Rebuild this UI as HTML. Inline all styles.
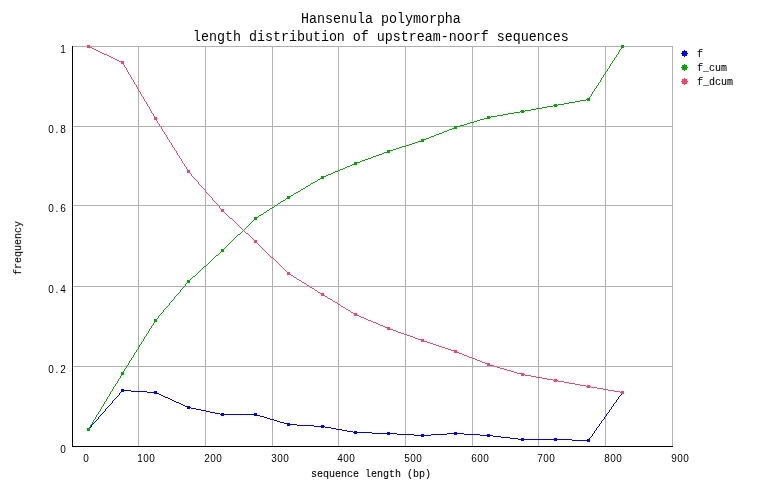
<!DOCTYPE html>
<html><head><meta charset="utf-8"><title>Hansenula polymorpha</title>
<style>
html,body{margin:0;padding:0;background:#fff;}
body{width:762px;height:498px;overflow:hidden;font-family:"Liberation Mono",monospace;}
svg{display:block;}
text{font-family:"Liberation Mono",monospace;fill:#000;stroke:#000;stroke-width:0.1px;}
.s{font-size:10px;}
.d{font-family:"Liberation Sans",sans-serif;font-size:10px;stroke:none;}
.t{font-size:13.333px;stroke:none;}
</style></head><body>
<svg width="762" height="498" viewBox="0 0 762 498">
<rect x="0" y="0" width="762" height="498" fill="#ffffff"/>

<g shape-rendering="crispEdges" fill="#b0b0b0">
<rect x="138" y="46" width="1" height="401"/>
<rect x="205" y="46" width="1" height="401"/>
<rect x="272" y="46" width="1" height="401"/>
<rect x="338" y="46" width="1" height="401"/>
<rect x="405" y="46" width="1" height="401"/>
<rect x="472" y="46" width="1" height="401"/>
<rect x="538" y="46" width="1" height="401"/>
<rect x="605" y="46" width="1" height="401"/>
<rect x="672" y="46" width="1" height="401"/>
<rect x="72" y="46" width="601" height="1"/>
<rect x="72" y="126" width="601" height="1"/>
<rect x="72" y="205" width="601" height="1"/>
<rect x="72" y="286" width="601" height="1"/>
<rect x="72" y="366" width="601" height="1"/>
</g>
<g shape-rendering="crispEdges" fill="#000"><rect x="72" y="46" width="1" height="401"/><rect x="72" y="446" width="601" height="1"/></g>
<path fill="#0000ff" shape-rendering="crispEdges" d="M87 428h3v1h-3zM87 429h3v1h-3zM87 430h3v1h-3zM90 427h1v1h-1zM91 425h1v2h-1zM92 424h1v1h-1zM93 423h1v1h-1zM94 422h1v1h-1zM95 421h1v1h-1zM96 420h1v1h-1zM97 419h1v1h-1zM98 417h1v2h-1zM99 416h1v1h-1zM100 415h1v1h-1zM101 414h1v1h-1zM102 413h1v1h-1zM103 412h1v1h-1zM104 411h1v1h-1zM105 409h1v2h-1zM106 408h1v1h-1zM107 407h1v1h-1zM108 406h1v1h-1zM109 405h1v1h-1zM110 404h1v1h-1zM111 403h1v1h-1zM112 401h1v2h-1zM113 400h1v1h-1zM114 399h1v1h-1zM115 398h1v1h-1zM116 397h1v1h-1zM117 396h1v1h-1zM118 395h1v1h-1zM119 393h1v2h-1zM120 392h1v1h-1zM121 389h3v1h-3zM121 390h10v1h-10zM121 391h3v1h-3zM131 391h16v1h-16zM147 392h10v1h-10zM154 391h3v1h-3zM154 393h5v1h-5zM159 394h2v1h-2zM161 395h2v1h-2zM163 396h2v1h-2zM165 397h3v1h-3zM168 398h2v1h-2zM170 399h2v1h-2zM172 400h2v1h-2zM174 401h2v1h-2zM176 402h3v1h-3zM179 403h2v1h-2zM181 404h2v1h-2zM183 405h2v1h-2zM185 406h5v1h-5zM187 407h4v1h-4zM187 408h3v1h-3zM191 408h5v1h-5zM196 409h5v1h-5zM201 410h5v1h-5zM206 411h4v1h-4zM210 412h5v1h-5zM215 413h5v1h-5zM220 414h37v1h-37zM221 413h3v1h-3zM221 415h3v1h-3zM254 413h3v1h-3zM254 415h6v1h-6zM260 416h4v1h-4zM264 417h3v1h-3zM267 418h3v1h-3zM270 419h4v1h-4zM274 420h3v1h-3zM277 421h3v1h-3zM280 422h4v1h-4zM284 423h6v1h-6zM287 424h10v1h-10zM287 425h3v1h-3zM297 425h17v1h-17zM314 426h11v1h-11zM321 425h3v1h-3zM321 427h3v1h-3zM325 427h6v1h-6zM331 428h5v1h-5zM336 429h6v1h-6zM342 430h5v1h-5zM347 431h6v1h-6zM353 432h19v1h-19zM354 431h3v1h-3zM354 433h3v1h-3zM372 433h25v1h-25zM387 432h3v1h-3zM387 434h3v1h-3zM397 434h17v1h-17zM414 435h17v1h-17zM421 434h3v1h-3zM421 436h3v1h-3zM431 434h16v1h-16zM447 433h17v1h-17zM454 432h3v1h-3zM454 434h3v1h-3zM464 434h16v1h-16zM480 435h13v1h-13zM487 434h3v1h-3zM487 436h3v1h-3zM493 436h8v1h-8zM501 437h9v1h-9zM510 438h8v1h-8zM518 439h54v1h-54zM521 438h3v1h-3zM521 440h3v1h-3zM554 438h3v1h-3zM554 440h3v1h-3zM572 440h18v1h-18zM587 439h3v1h-3zM587 441h3v1h-3zM589 438h1v1h-1zM590 437h1v1h-1zM591 436h1v1h-1zM592 434h1v2h-1zM593 433h1v1h-1zM594 431h1v2h-1zM595 430h1v1h-1zM596 428h1v2h-1zM597 427h1v1h-1zM598 426h1v1h-1zM599 424h1v2h-1zM600 423h1v1h-1zM601 421h1v2h-1zM602 420h1v1h-1zM603 419h1v1h-1zM604 417h1v2h-1zM605 416h1v1h-1zM606 414h1v2h-1zM607 413h1v1h-1zM608 412h1v1h-1zM609 410h1v2h-1zM610 409h1v1h-1zM611 407h1v2h-1zM612 406h1v1h-1zM613 404h1v2h-1zM614 403h1v1h-1zM615 402h1v1h-1zM616 400h1v2h-1zM617 399h1v1h-1zM618 397h1v2h-1zM619 396h1v1h-1zM620 395h1v1h-1zM621 391h3v1h-3zM621 392h3v1h-3zM621 393h3v1h-3zM621 394h1v1h-1z"/>
<path fill="#00aa00" shape-rendering="crispEdges" d="M87 428h3v1h-3zM87 429h3v1h-3zM87 430h3v1h-3zM89 427h1v1h-1zM90 425h1v2h-1zM91 424h1v1h-1zM92 422h1v2h-1zM93 420h1v2h-1zM94 419h1v1h-1zM95 417h1v2h-1zM96 415h1v2h-1zM97 414h1v1h-1zM98 412h1v2h-1zM99 411h1v1h-1zM100 409h1v2h-1zM101 407h1v2h-1zM102 406h1v1h-1zM103 404h1v2h-1zM104 402h1v2h-1zM105 401h1v1h-1zM106 399h1v2h-1zM107 397h1v2h-1zM108 396h1v1h-1zM109 394h1v2h-1zM110 392h1v2h-1zM111 391h1v1h-1zM112 389h1v2h-1zM113 387h1v2h-1zM114 386h1v1h-1zM115 384h1v2h-1zM116 383h1v1h-1zM117 381h1v2h-1zM118 379h1v2h-1zM119 378h1v1h-1zM120 376h1v2h-1zM121 372h3v1h-3zM121 373h3v1h-3zM121 374h3v1h-3zM121 375h1v1h-1zM123 371h1v1h-1zM124 369h1v2h-1zM125 368h1v1h-1zM126 366h1v2h-1zM127 365h1v1h-1zM128 363h1v2h-1zM129 361h1v2h-1zM130 360h1v1h-1zM131 358h1v2h-1zM132 357h1v1h-1zM133 355h1v2h-1zM134 353h1v2h-1zM135 352h1v1h-1zM136 350h1v2h-1zM137 349h1v1h-1zM138 347h1v2h-1zM139 345h1v2h-1zM140 344h1v1h-1zM141 342h1v2h-1zM142 341h1v1h-1zM143 339h1v2h-1zM144 337h1v2h-1zM145 336h1v1h-1zM146 334h1v2h-1zM147 333h1v1h-1zM148 331h1v2h-1zM149 329h1v2h-1zM150 328h1v1h-1zM151 326h1v2h-1zM152 325h1v1h-1zM153 323h1v2h-1zM154 319h3v1h-3zM154 320h3v1h-3zM154 321h3v1h-3zM154 322h1v1h-1zM157 318h1v1h-1zM158 316h1v2h-1zM159 315h1v1h-1zM160 314h1v1h-1zM161 313h1v1h-1zM162 312h1v1h-1zM163 310h1v2h-1zM164 309h1v1h-1zM165 308h1v1h-1zM166 307h1v1h-1zM167 306h1v1h-1zM168 305h1v1h-1zM169 303h1v2h-1zM170 302h1v1h-1zM171 301h1v1h-1zM172 300h1v1h-1zM173 299h1v1h-1zM174 297h1v2h-1zM175 296h1v1h-1zM176 295h1v1h-1zM177 294h1v1h-1zM178 293h1v1h-1zM179 292h1v1h-1zM180 290h1v2h-1zM181 289h1v1h-1zM182 288h1v1h-1zM183 287h1v1h-1zM184 286h1v1h-1zM185 284h1v2h-1zM186 283h1v1h-1zM187 280h3v1h-3zM187 281h3v1h-3zM187 282h3v1h-3zM190 279h1v1h-1zM191 278h1v1h-1zM192 277h1v1h-1zM193 276h2v1h-2zM195 275h1v1h-1zM196 274h1v1h-1zM197 273h1v1h-1zM198 272h1v1h-1zM199 271h1v1h-1zM200 270h1v1h-1zM201 269h1v1h-1zM202 268h1v1h-1zM203 267h1v1h-1zM204 266h2v1h-2zM206 265h1v1h-1zM207 264h1v1h-1zM208 263h1v1h-1zM209 262h1v1h-1zM210 261h1v1h-1zM211 260h1v1h-1zM212 259h1v1h-1zM213 258h1v1h-1zM214 257h1v1h-1zM215 256h1v1h-1zM216 255h2v1h-2zM218 254h1v1h-1zM219 253h1v1h-1zM220 252h1v1h-1zM221 249h3v1h-3zM221 250h3v1h-3zM221 251h3v1h-3zM224 248h1v1h-1zM225 247h1v1h-1zM226 246h1v1h-1zM227 245h1v1h-1zM228 244h1v1h-1zM229 243h1v1h-1zM230 242h1v1h-1zM231 241h1v1h-1zM232 240h1v1h-1zM233 239h1v1h-1zM234 238h1v1h-1zM235 237h1v1h-1zM236 236h1v1h-1zM237 235h1v1h-1zM238 234h2v1h-2zM240 233h1v1h-1zM241 232h1v1h-1zM242 231h1v1h-1zM243 230h1v1h-1zM244 229h1v1h-1zM245 228h1v1h-1zM246 227h1v1h-1zM247 226h1v1h-1zM248 225h1v1h-1zM249 224h1v1h-1zM250 223h1v1h-1zM251 222h1v1h-1zM252 221h1v1h-1zM253 220h1v1h-1zM254 217h4v1h-4zM254 218h3v1h-3zM254 219h3v1h-3zM258 216h1v1h-1zM259 215h2v1h-2zM261 214h2v1h-2zM263 213h1v1h-1zM264 212h2v1h-2zM266 211h1v1h-1zM267 210h2v1h-2zM269 209h1v1h-1zM270 208h2v1h-2zM272 207h2v1h-2zM274 206h1v1h-1zM275 205h2v1h-2zM277 204h1v1h-1zM278 203h2v1h-2zM280 202h1v1h-1zM281 201h2v1h-2zM283 200h2v1h-2zM285 199h1v1h-1zM286 198h4v1h-4zM287 196h4v1h-4zM287 197h3v1h-3zM291 195h2v1h-2zM293 194h1v1h-1zM294 193h2v1h-2zM296 192h2v1h-2zM298 191h2v1h-2zM300 190h1v1h-1zM301 189h2v1h-2zM303 188h2v1h-2zM305 187h1v1h-1zM306 186h2v1h-2zM308 185h2v1h-2zM310 184h1v1h-1zM311 183h2v1h-2zM313 182h2v1h-2zM315 181h2v1h-2zM317 180h1v1h-1zM318 179h2v1h-2zM320 178h4v1h-4zM321 176h5v1h-5zM321 177h3v1h-3zM326 175h2v1h-2zM328 174h3v1h-3zM331 173h2v1h-2zM333 172h2v1h-2zM335 171h3v1h-3zM338 170h2v1h-2zM340 169h3v1h-3zM343 168h2v1h-2zM345 167h2v1h-2zM347 166h3v1h-3zM350 165h2v1h-2zM352 164h5v1h-5zM354 162h6v1h-6zM354 163h3v1h-3zM360 161h2v1h-2zM362 160h3v1h-3zM365 159h3v1h-3zM368 158h3v1h-3zM371 157h2v1h-2zM373 156h3v1h-3zM376 155h3v1h-3zM379 154h3v1h-3zM382 153h2v1h-2zM384 152h6v1h-6zM387 150h6v1h-6zM387 151h3v1h-3zM393 149h3v1h-3zM396 148h3v1h-3zM399 147h3v1h-3zM402 146h4v1h-4zM406 145h3v1h-3zM409 144h3v1h-3zM412 143h3v1h-3zM415 142h3v1h-3zM418 141h6v1h-6zM421 139h5v1h-5zM421 140h3v1h-3zM426 138h3v1h-3zM429 137h2v1h-2zM431 136h3v1h-3zM434 135h2v1h-2zM436 134h3v1h-3zM439 133h3v1h-3zM442 132h2v1h-2zM444 131h3v1h-3zM447 130h2v1h-2zM449 129h3v1h-3zM452 128h5v1h-5zM454 126h6v1h-6zM454 127h3v1h-3zM460 125h4v1h-4zM464 124h3v1h-3zM467 123h3v1h-3zM470 122h4v1h-4zM474 121h3v1h-3zM477 120h3v1h-3zM480 119h4v1h-4zM484 118h6v1h-6zM487 116h3v1h-3zM487 117h4v1h-4zM491 116h6v1h-6zM497 115h6v1h-6zM503 114h5v1h-5zM508 113h6v1h-6zM514 112h6v1h-6zM520 111h5v1h-5zM521 110h3v1h-3zM521 112h3v1h-3zM525 110h6v1h-6zM531 109h5v1h-5zM536 108h6v1h-6zM542 107h5v1h-5zM547 106h6v1h-6zM553 105h5v1h-5zM554 104h3v1h-3zM554 106h3v1h-3zM558 104h6v1h-6zM564 103h5v1h-5zM569 102h6v1h-6zM575 101h5v1h-5zM580 100h6v1h-6zM586 99h4v1h-4zM587 98h3v1h-3zM587 100h3v1h-3zM589 97h1v1h-1zM590 96h1v1h-1zM591 94h1v2h-1zM592 92h1v2h-1zM593 91h1v1h-1zM594 89h1v2h-1zM595 88h1v1h-1zM596 86h1v2h-1zM597 85h1v1h-1zM598 83h1v2h-1zM599 82h1v1h-1zM600 80h1v2h-1zM601 78h1v2h-1zM602 77h1v1h-1zM603 75h1v2h-1zM604 74h1v1h-1zM605 72h1v2h-1zM606 71h1v1h-1zM607 69h1v2h-1zM608 68h1v1h-1zM609 66h1v2h-1zM610 64h1v2h-1zM611 63h1v1h-1zM612 61h1v2h-1zM613 60h1v1h-1zM614 58h1v2h-1zM615 57h1v1h-1zM616 55h1v2h-1zM617 54h1v1h-1zM618 52h1v2h-1zM619 50h1v2h-1zM620 49h1v1h-1zM621 45h3v1h-3zM621 46h3v1h-3zM621 47h3v1h-3zM621 48h1v1h-1z"/>
<path fill="#ff3f70" shape-rendering="crispEdges" d="M87 45h3v1h-3zM87 46h3v1h-3zM87 47h5v1h-5zM92 48h2v1h-2zM94 49h2v1h-2zM96 50h2v1h-2zM98 51h2v1h-2zM100 52h2v1h-2zM102 53h2v1h-2zM104 54h3v1h-3zM107 55h2v1h-2zM109 56h2v1h-2zM111 57h2v1h-2zM113 58h2v1h-2zM115 59h2v1h-2zM117 60h2v1h-2zM119 61h5v1h-5zM121 62h3v1h-3zM121 63h3v1h-3zM123 64h1v1h-1zM124 65h1v2h-1zM125 67h1v1h-1zM126 68h1v2h-1zM127 70h1v2h-1zM128 72h1v2h-1zM129 74h1v1h-1zM130 75h1v2h-1zM131 77h1v2h-1zM132 79h1v1h-1zM133 80h1v2h-1zM134 82h1v2h-1zM135 84h1v1h-1zM136 85h1v2h-1zM137 87h1v2h-1zM138 89h1v2h-1zM139 91h1v1h-1zM140 92h1v2h-1zM141 94h1v2h-1zM142 96h1v1h-1zM143 97h1v2h-1zM144 99h1v2h-1zM145 101h1v1h-1zM146 102h1v2h-1zM147 104h1v2h-1zM148 106h1v1h-1zM149 107h1v2h-1zM150 109h1v2h-1zM151 111h1v2h-1zM152 113h1v1h-1zM153 114h1v2h-1zM154 116h1v1h-1zM154 117h3v1h-3zM154 118h3v1h-3zM154 119h3v1h-3zM156 120h1v1h-1zM157 121h1v2h-1zM158 123h1v1h-1zM159 124h1v2h-1zM160 126h1v1h-1zM161 127h1v2h-1zM162 129h1v2h-1zM163 131h1v1h-1zM164 132h1v2h-1zM165 134h1v1h-1zM166 135h1v2h-1zM167 137h1v2h-1zM168 139h1v1h-1zM169 140h1v2h-1zM170 142h1v1h-1zM171 143h1v2h-1zM172 145h1v2h-1zM173 147h1v1h-1zM174 148h1v2h-1zM175 150h1v1h-1zM176 151h1v2h-1zM177 153h1v2h-1zM178 155h1v1h-1zM179 156h1v2h-1zM180 158h1v1h-1zM181 159h1v2h-1zM182 161h1v2h-1zM183 163h1v1h-1zM184 164h1v2h-1zM185 166h1v1h-1zM186 167h1v2h-1zM187 169h1v1h-1zM187 170h3v1h-3zM187 171h3v1h-3zM187 172h3v1h-3zM190 173h1v1h-1zM191 174h1v2h-1zM192 176h1v1h-1zM193 177h1v1h-1zM194 178h1v1h-1zM195 179h1v1h-1zM196 180h1v1h-1zM197 181h1v1h-1zM198 182h1v2h-1zM199 184h1v1h-1zM200 185h1v1h-1zM201 186h1v1h-1zM202 187h1v1h-1zM203 188h1v1h-1zM204 189h1v1h-1zM205 190h1v2h-1zM206 192h1v1h-1zM207 193h1v1h-1zM208 194h1v1h-1zM209 195h1v1h-1zM210 196h1v1h-1zM211 197h1v1h-1zM212 198h1v2h-1zM213 200h1v1h-1zM214 201h1v1h-1zM215 202h1v1h-1zM216 203h1v1h-1zM217 204h1v1h-1zM218 205h1v1h-1zM219 206h1v2h-1zM220 208h1v1h-1zM221 209h3v1h-3zM221 210h3v1h-3zM221 211h3v1h-3zM224 212h1v1h-1zM225 213h1v1h-1zM226 214h1v1h-1zM227 215h1v1h-1zM228 216h1v1h-1zM229 217h1v1h-1zM230 218h2v1h-2zM232 219h1v1h-1zM233 220h1v1h-1zM234 221h1v1h-1zM235 222h1v1h-1zM236 223h1v1h-1zM237 224h1v1h-1zM238 225h1v1h-1zM239 226h1v1h-1zM240 227h1v1h-1zM241 228h1v1h-1zM242 229h1v1h-1zM243 230h1v1h-1zM244 231h1v1h-1zM245 232h1v1h-1zM246 233h2v1h-2zM248 234h1v1h-1zM249 235h1v1h-1zM250 236h1v1h-1zM251 237h1v1h-1zM252 238h1v1h-1zM253 239h1v1h-1zM254 240h3v1h-3zM254 241h3v1h-3zM254 242h3v1h-3zM257 243h1v1h-1zM258 244h1v1h-1zM259 245h1v1h-1zM260 246h1v1h-1zM261 247h1v1h-1zM262 248h1v1h-1zM263 249h1v1h-1zM264 250h1v1h-1zM265 251h1v1h-1zM266 252h1v1h-1zM267 253h1v1h-1zM268 254h1v1h-1zM269 255h1v1h-1zM270 256h1v1h-1zM271 257h2v1h-2zM273 258h1v1h-1zM274 259h1v1h-1zM275 260h1v1h-1zM276 261h1v1h-1zM277 262h1v1h-1zM278 263h1v1h-1zM279 264h1v1h-1zM280 265h1v1h-1zM281 266h1v1h-1zM282 267h1v1h-1zM283 268h1v1h-1zM284 269h1v1h-1zM285 270h1v1h-1zM286 271h1v1h-1zM287 272h3v1h-3zM287 273h3v1h-3zM287 274h4v1h-4zM291 275h2v1h-2zM293 276h1v1h-1zM294 277h2v1h-2zM296 278h1v1h-1zM297 279h2v1h-2zM299 280h2v1h-2zM301 281h1v1h-1zM302 282h2v1h-2zM304 283h2v1h-2zM306 284h1v1h-1zM307 285h2v1h-2zM309 286h1v1h-1zM310 287h2v1h-2zM312 288h2v1h-2zM314 289h1v1h-1zM315 290h2v1h-2zM317 291h1v1h-1zM318 292h2v1h-2zM320 293h4v1h-4zM321 294h3v1h-3zM321 295h4v1h-4zM325 296h2v1h-2zM327 297h1v1h-1zM328 298h2v1h-2zM330 299h2v1h-2zM332 300h1v1h-1zM333 301h2v1h-2zM335 302h2v1h-2zM337 303h1v1h-1zM338 304h2v1h-2zM340 305h1v1h-1zM341 306h2v1h-2zM343 307h2v1h-2zM345 308h1v1h-1zM346 309h2v1h-2zM348 310h2v1h-2zM350 311h1v1h-1zM351 312h2v1h-2zM353 313h4v1h-4zM354 314h3v1h-3zM354 315h5v1h-5zM359 316h2v1h-2zM361 317h3v1h-3zM364 318h2v1h-2zM366 319h2v1h-2zM368 320h3v1h-3zM371 321h2v1h-2zM373 322h3v1h-3zM376 323h2v1h-2zM378 324h2v1h-2zM380 325h3v1h-3zM383 326h2v1h-2zM385 327h5v1h-5zM387 328h3v1h-3zM387 329h6v1h-6zM393 330h3v1h-3zM396 331h2v1h-2zM398 332h3v1h-3zM401 333h3v1h-3zM404 334h3v1h-3zM407 335h3v1h-3zM410 336h3v1h-3zM413 337h2v1h-2zM415 338h3v1h-3zM418 339h6v1h-6zM421 340h3v1h-3zM421 341h6v1h-6zM427 342h3v1h-3zM430 343h3v1h-3zM433 344h3v1h-3zM436 345h3v1h-3zM439 346h3v1h-3zM442 347h3v1h-3zM445 348h3v1h-3zM448 349h3v1h-3zM451 350h6v1h-6zM454 351h3v1h-3zM454 352h5v1h-5zM459 353h3v1h-3zM462 354h2v1h-2zM464 355h3v1h-3zM467 356h2v1h-2zM469 357h3v1h-3zM472 358h3v1h-3zM475 359h2v1h-2zM477 360h3v1h-3zM480 361h2v1h-2zM482 362h3v1h-3zM485 363h5v1h-5zM487 364h3v1h-3zM487 365h7v1h-7zM494 366h3v1h-3zM497 367h3v1h-3zM500 368h4v1h-4zM504 369h3v1h-3zM507 370h4v1h-4zM511 371h3v1h-3zM514 372h3v1h-3zM517 373h7v1h-7zM521 374h4v1h-4zM521 375h3v1h-3zM525 375h6v1h-6zM531 376h5v1h-5zM536 377h6v1h-6zM542 378h5v1h-5zM547 379h6v1h-6zM553 380h5v1h-5zM554 379h3v1h-3zM554 381h3v1h-3zM558 381h6v1h-6zM564 382h5v1h-5zM569 383h6v1h-6zM575 384h5v1h-5zM580 385h6v1h-6zM586 386h5v1h-5zM587 385h3v1h-3zM587 387h3v1h-3zM591 387h6v1h-6zM597 388h6v1h-6zM603 389h5v1h-5zM608 390h6v1h-6zM614 391h6v1h-6zM620 392h4v1h-4zM621 391h3v1h-3zM621 393h3v1h-3z"/>
<g fill="#0000ff" shape-rendering="crispEdges"><rect x="684" y="50" width="1" height="1"/><rect x="682" y="51" width="5" height="1"/><rect x="682" y="52" width="5" height="1"/><rect x="681" y="53" width="7" height="1"/><rect x="682" y="54" width="5" height="1"/><rect x="682" y="55" width="5" height="1"/><rect x="684" y="56" width="1" height="1"/></g>
<g fill="#00aa00" shape-rendering="crispEdges"><rect x="684" y="64" width="1" height="1"/><rect x="682" y="65" width="5" height="1"/><rect x="682" y="66" width="5" height="1"/><rect x="681" y="67" width="7" height="1"/><rect x="682" y="68" width="5" height="1"/><rect x="682" y="69" width="5" height="1"/><rect x="684" y="70" width="1" height="1"/></g>
<g fill="#ff3f70" shape-rendering="crispEdges"><rect x="684" y="78" width="1" height="1"/><rect x="682" y="79" width="5" height="1"/><rect x="682" y="80" width="5" height="1"/><rect x="681" y="81" width="7" height="1"/><rect x="682" y="82" width="5" height="1"/><rect x="682" y="83" width="5" height="1"/><rect x="684" y="84" width="1" height="1"/></g>
<g style="opacity:0.999">
<text class="s" transform="translate(697,57) scale(1,1.1)" x="0" y="0" xml:space="preserve">f</text>
<text class="s" transform="translate(697,71) scale(1,1.1)" x="0" y="0" xml:space="preserve">f_cum</text>
<text class="s" transform="translate(697,85) scale(1,1.1)" x="0" y="0" xml:space="preserve">f_dcum</text>
<text class="d" transform="translate(60,53) scale(1,1.1)" x="0.22" y="0">1</text>
<text class="d" transform="translate(48,133) scale(1,1.1)" x="0.22 7.61 12.22" y="0">0.8</text>
<text class="d" transform="translate(48,212) scale(1,1.1)" x="0.22 7.61 12.22" y="0">0.6</text>
<text class="d" transform="translate(48,293) scale(1,1.1)" x="0.22 7.61 12.22" y="0">0.4</text>
<text class="d" transform="translate(48,373) scale(1,1.1)" x="0.22 7.61 12.22" y="0">0.2</text>
<text class="d" transform="translate(60,453) scale(1,1.1)" x="0.22" y="0">0</text>
<text class="d" transform="translate(83,462) scale(1,1.1)" x="0.22" y="0">0</text>
<text class="d" transform="translate(137,462) scale(1,1.1)" x="0.22 6.22 12.22" y="0">100</text>
<text class="d" transform="translate(204,462) scale(1,1.1)" x="0.22 6.22 12.22" y="0">200</text>
<text class="d" transform="translate(271,462) scale(1,1.1)" x="0.22 6.22 12.22" y="0">300</text>
<text class="d" transform="translate(337,462) scale(1,1.1)" x="0.22 6.22 12.22" y="0">400</text>
<text class="d" transform="translate(404,462) scale(1,1.1)" x="0.22 6.22 12.22" y="0">500</text>
<text class="d" transform="translate(471,462) scale(1,1.1)" x="0.22 6.22 12.22" y="0">600</text>
<text class="d" transform="translate(537,462) scale(1,1.1)" x="0.22 6.22 12.22" y="0">700</text>
<text class="d" transform="translate(604,462) scale(1,1.1)" x="0.22 6.22 12.22" y="0">800</text>
<text class="d" transform="translate(671,462) scale(1,1.1)" x="0.22 6.22 12.22" y="0">900</text>
<text class="s" transform="translate(311,477) scale(1,1.1)" x="0" y="0" xml:space="preserve">sequence length (bp)</text>
<text class="s" transform="translate(21,275) rotate(-90) scale(1,1.1)" x="0" y="0">frequency</text>
<text class="t" transform="translate(301,23) scale(1,1.05)" x="0" y="0" xml:space="preserve">Hansenula polymorpha</text>
<text class="t" transform="translate(193,41) scale(1,1.05)" x="0" y="0" xml:space="preserve">length distribution of upstream-noorf sequences</text>
</g>
</svg></body></html>
